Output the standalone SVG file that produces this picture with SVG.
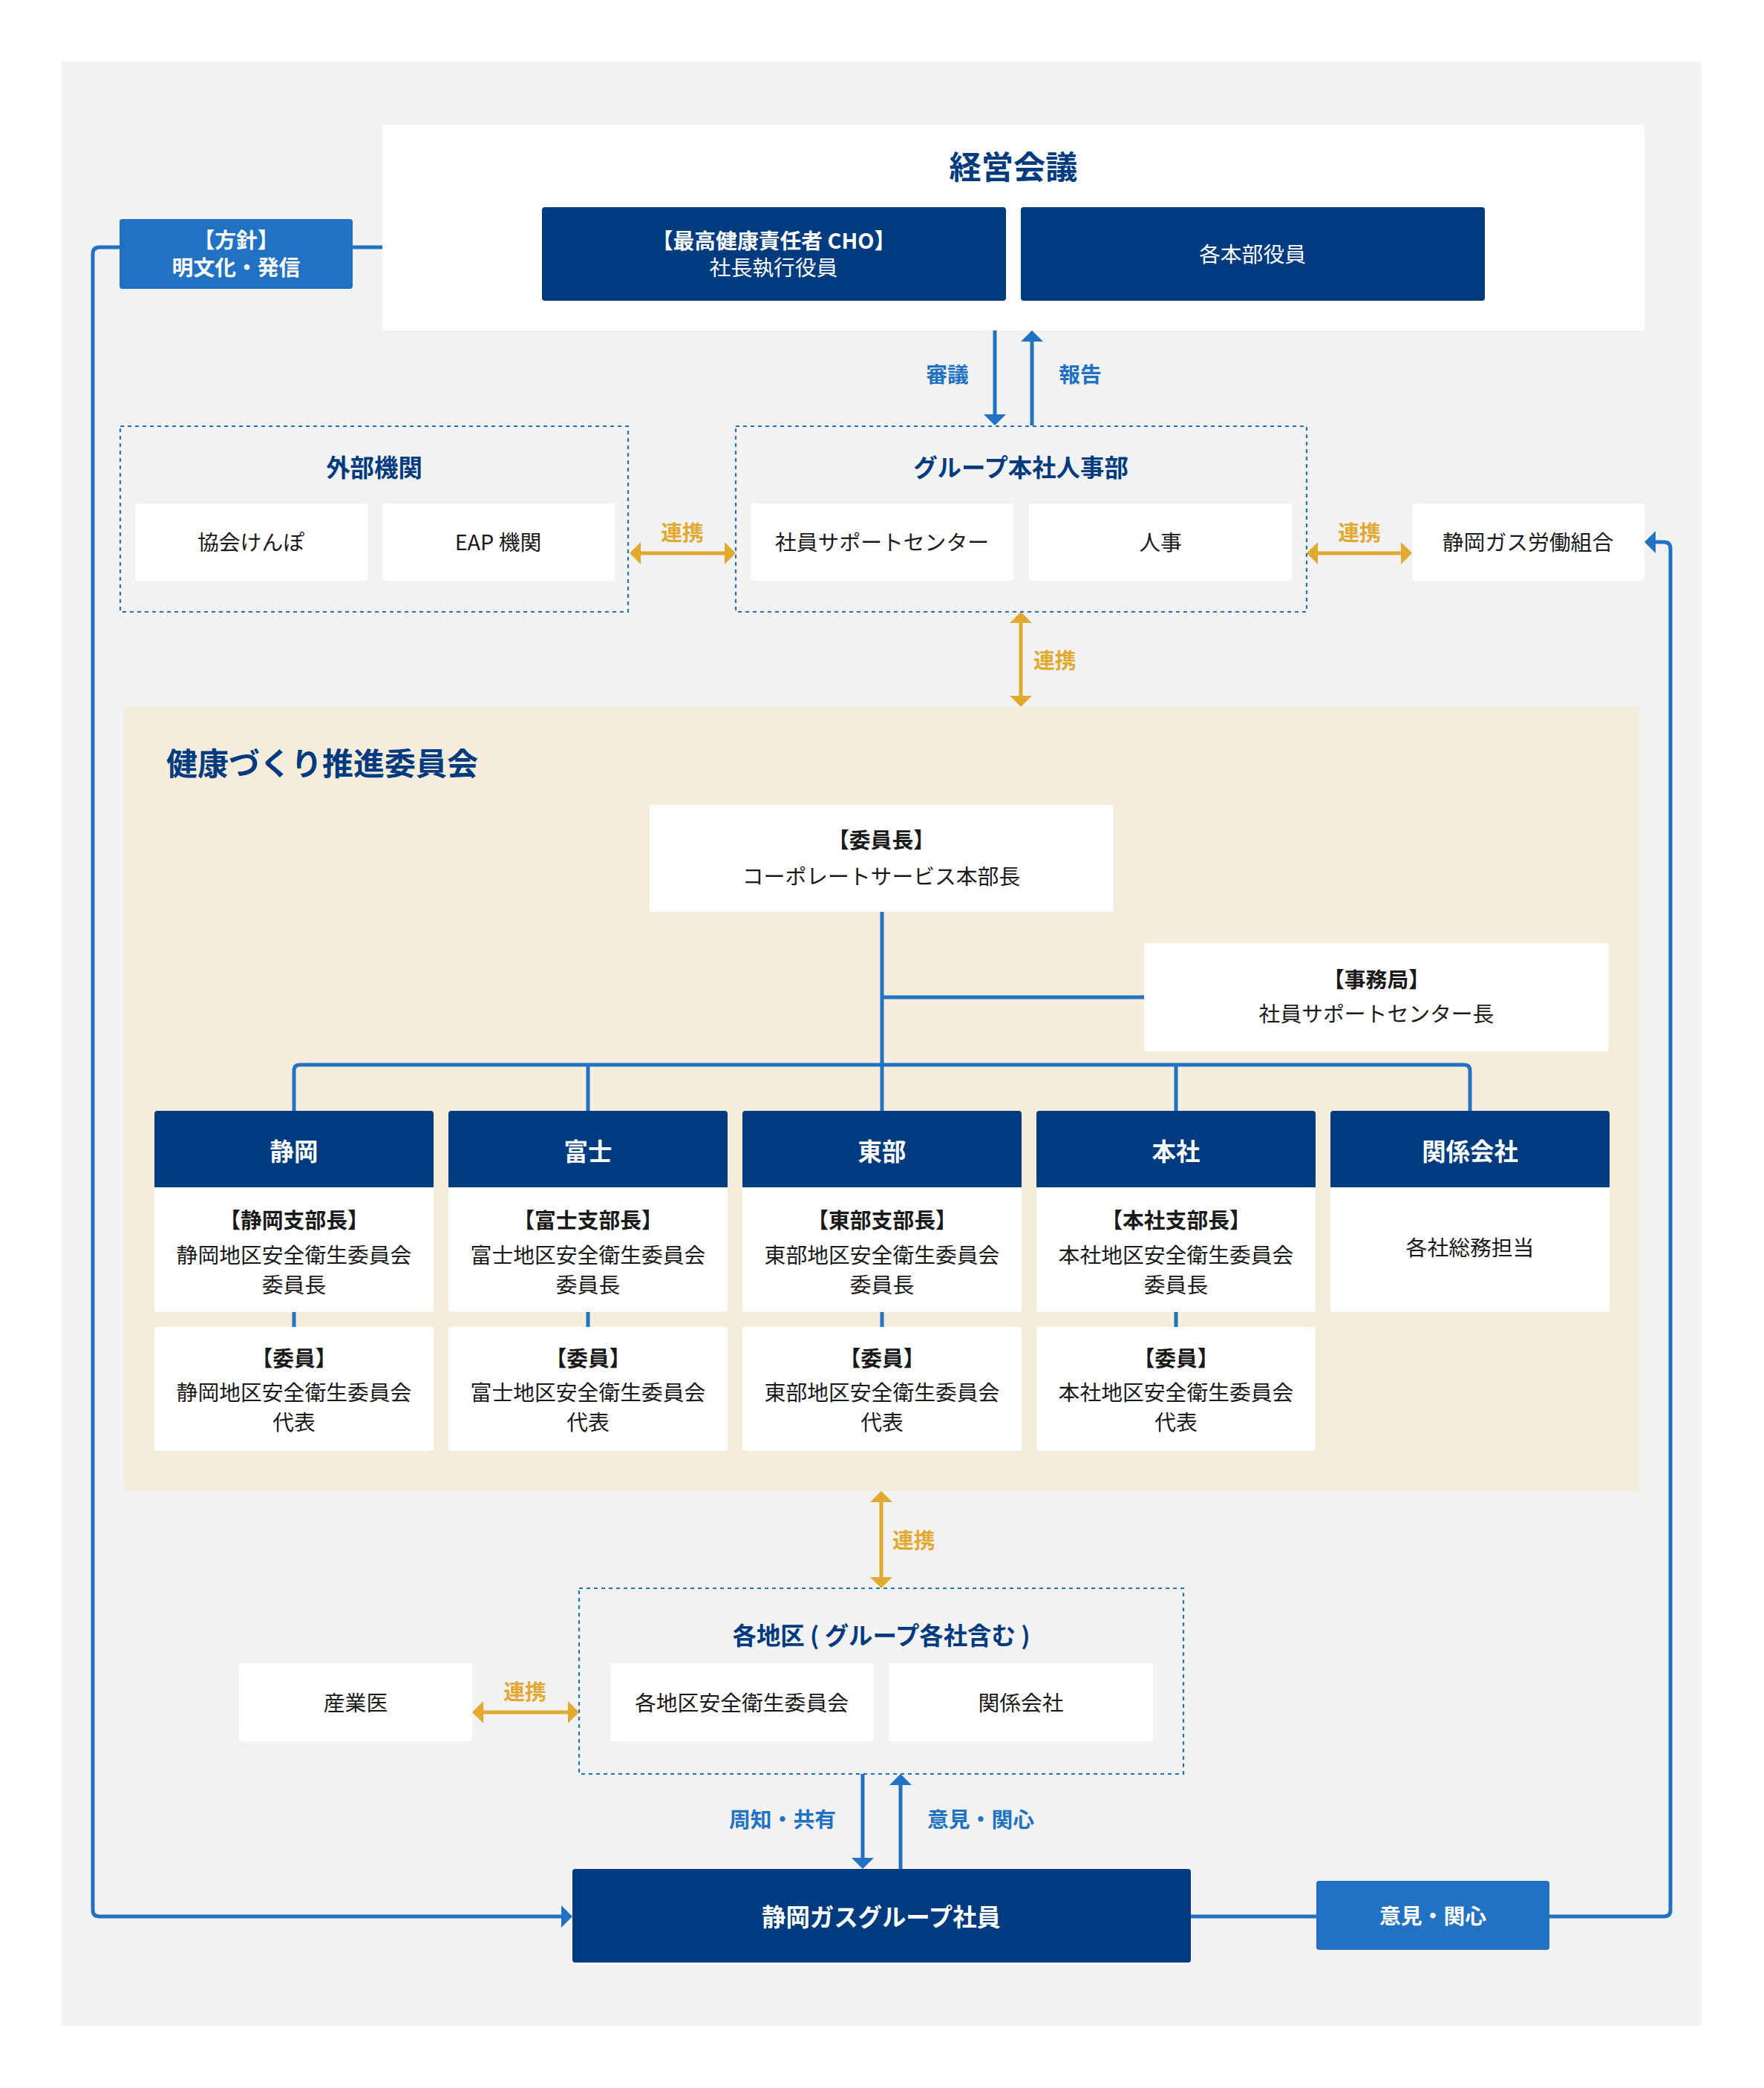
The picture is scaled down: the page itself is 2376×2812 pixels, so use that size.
<svg xmlns="http://www.w3.org/2000/svg" width="2376" height="2812" viewBox="0 0 2376 2812">
<defs>
<style>
text{font-family:"Noto Sans CJK JP","Noto Sans",sans-serif;text-anchor:middle;}
.t{font-size:28.8px;fill:#1a1a1a;}
.tb{font-size:28.8px;font-weight:700;fill:#1a1a1a;}
.w{font-size:28.8px;fill:#fff;}
.wb{font-size:28.8px;font-weight:700;fill:#fff;}
.wh{font-size:32.4px;font-weight:700;fill:#fff;}
.h{font-size:32.4px;font-weight:700;fill:#003b80;}
.big{font-size:43.2px;font-weight:700;fill:#003b80;}
.lb{font-size:28.8px;font-weight:700;fill:#2272c3;}
.ly{font-size:28.8px;font-weight:700;fill:#e2a930;}
.card{fill:#fff;}
.navy{fill:#003b80;}
.blue{fill:#2272c3;}
.dot{fill:none;stroke:#2272c3;stroke-width:2.2;stroke-dasharray:5 5;}
.cb{fill:none;stroke:#2272c3;stroke-width:5;}
.cy{fill:none;stroke:#e2a930;stroke-width:5;}
.ab{fill:none;stroke:#2272c3;stroke-width:5;marker-end:url(#hb);}
.ay{fill:none;stroke:#e2a930;stroke-width:5;marker-end:url(#hy);marker-start:url(#hy);}
</style>
<marker id="hb" viewBox="0 0 15 30" refX="0" refY="15" markerWidth="15" markerHeight="30" markerUnits="userSpaceOnUse" orient="auto">
<path d="M0,0 L15,15 L0,30 Z" fill="#2272c3"/>
</marker>
<marker id="hy" viewBox="0 0 15 30" refX="0" refY="15" markerWidth="15" markerHeight="30" markerUnits="userSpaceOnUse" orient="auto-start-reverse">
<path d="M0,0 L15,15 L0,30 Z" fill="#e2a930"/>
</marker>
</defs>
<rect x="0" y="0" width="2376" height="2812" fill="#fff"/>
<rect x="83" y="83" width="2209" height="2645" fill="#f2f2f2"/>
<rect id="committee-bg" x="167" y="952" width="2041" height="1056" rx="4" fill="#f6ecdc"/>

<g id="connectors">
<path class="cb" d="M161,333 H134 Q125,333 125,342 V2572 Q125,2581 134,2581 H756" />
<path d="M756,2566 L771,2581 L756,2596 Z" fill="#2272c3"/>
<path class="cb" d="M475,333 H515"/>
<path class="ab" d="M1340,445 V558"/>
<path class="ab" d="M1390,573 V460"/>
<path class="ay" d="M863,745 H976"/>
<path class="ay" d="M1775,745 H1887"/>
<path class="ay" d="M1375,839 V937"/>
<path class="cb" d="M1188,1228 V1496"/>
<path class="cb" d="M1188,1343 H1541"/>
<path class="cb" d="M396,1496 V1442 Q396,1434 404,1434 H1972 Q1980,1434 1980,1442 V1496"/>
<path class="cb" d="M792,1434 V1496 M1584,1434 V1496"/>
<path class="cb" d="M396,1767 V1787 M792,1767 V1787 M1188,1767 V1787 M1584,1767 V1787"/>
<path class="ay" d="M1187,2023 V2124"/>
<path class="ay" d="M651,2306 H765"/>
<path class="ab" d="M1162,2389 V2502"/>
<path class="ab" d="M1213,2517 V2404"/>
<path class="cb" d="M1604,2581 H1773"/>
<path class="cb" d="M2087,2581 H2241 Q2250,2581 2250,2572 V739 Q2250,730 2241,730 H2230"/>
<path d="M2230,715 L2215,730 L2230,745 Z" fill="#2272c3"/>
</g>

<g id="labels">
<text class="lb" x="1276" y="515">審議</text>
<text class="lb" x="1455" y="515">報告</text>
<text class="ly" x="919" y="728">連携</text>
<text class="ly" x="1831" y="728">連携</text>
<text class="ly" x="1392" y="900" style="text-anchor:start">連携</text>
<text class="ly" x="1202" y="2085" style="text-anchor:start">連携</text>
<text class="ly" x="707" y="2289">連携</text>
<text class="lb" x="1054" y="2461">周知・共有</text>
<text class="lb" x="1321" y="2461">意見・関心</text>
</g>

<g id="keiei">
<rect class="card" x="515" y="168" width="1700" height="277" rx="4"/>
<text class="big" x="1365" y="241">経営会議</text>
</g>
<g id="cho">
<rect class="navy" x="730" y="279" width="625" height="126" rx="4"/>
<text class="wb" x="1042" y="335">【最高健康責任者 CHO】</text>
<text class="w" x="1042" y="371">社長執行役員</text>
</g>
<g id="honbu">
<rect class="navy" x="1375" y="279" width="625" height="126" rx="4"/>
<text class="w" x="1687" y="353">各本部役員</text>
</g>
<g id="houshin">
<rect class="blue" x="161" y="295" width="314" height="94" rx="4"/>
<text class="wb" x="318" y="334">【方針】</text>
<text class="wb" x="318" y="371">明文化・発信</text>
</g>

<g id="gaibu">
<rect class="dot" x="162" y="574" width="684" height="250"/>
<text class="h" x="504" y="642">外部機関</text>
<rect class="card" x="182" y="678" width="313" height="104" rx="4"/>
<text class="t" x="338" y="741">協会けんぽ</text>
<rect class="card" x="515" y="678" width="313" height="104" rx="4"/>
<text class="t" x="671" y="741">EAP 機関</text>
</g>
<g id="jinji">
<rect class="dot" x="991" y="574" width="769" height="250"/>
<text class="h" x="1375" y="642">グループ本社人事部</text>
<rect class="card" x="1011" y="678" width="354" height="104" rx="4"/>
<text class="t" x="1188" y="741">社員サポートセンター</text>
<rect class="card" x="1386" y="678" width="354" height="104" rx="4"/>
<text class="t" x="1563" y="741">人事</text>
</g>
<g id="kumiai">
<rect class="card" x="1902" y="678" width="313" height="104" rx="4"/>
<text class="t" x="2058" y="741">静岡ガス労働組合</text>
</g>

<g id="committee-title">
<text class="big" x="224" y="1044" style="text-anchor:start;font-size:42px">健康づくり推進委員会</text>
</g>
<g id="iinchou">
<rect class="card" x="875" y="1084" width="625" height="144" rx="4"/>
<text class="tb" x="1187" y="1142">【委員長】</text>
<text class="t" x="1187" y="1191">コーポレートサービス本部長</text>
</g>
<g id="jimukyoku">
<rect class="card" x="1541" y="1270" width="626" height="146" rx="4"/>
<text class="tb" x="1854" y="1330">【事務局】</text>
<text class="t" x="1854" y="1376">社員サポートセンター長</text>
</g>

<g id="shizuoka">
<rect class="card" x="208" y="1496" width="376" height="271" rx="4"/>
<path class="navy" d="M208,1599 V1500 Q208,1496 212,1496 H580 Q584,1496 584,1500 V1599 Z"/>
<text class="wh" x="396" y="1563">静岡</text>
<text class="tb" x="396" y="1654">【静岡支部長】</text>
<text class="t" x="396" y="1701">静岡地区安全衛生委員会</text>
<text class="t" x="396" y="1741">委員長</text>
<rect class="card" x="208" y="1787" width="376" height="167" rx="4"/>
<text class="tb" x="396" y="1840">【委員】</text>
<text class="t" x="396" y="1886">静岡地区安全衛生委員会</text>
<text class="t" x="396" y="1926">代表</text>
</g>
<g id="fuji">
<rect class="card" x="604" y="1496" width="376" height="271" rx="4"/>
<path class="navy" d="M604,1599 V1500 Q604,1496 608,1496 H976 Q980,1496 980,1500 V1599 Z"/>
<text class="wh" x="792" y="1563">富士</text>
<text class="tb" x="792" y="1654">【富士支部長】</text>
<text class="t" x="792" y="1701">富士地区安全衛生委員会</text>
<text class="t" x="792" y="1741">委員長</text>
<rect class="card" x="604" y="1787" width="376" height="167" rx="4"/>
<text class="tb" x="792" y="1840">【委員】</text>
<text class="t" x="792" y="1886">富士地区安全衛生委員会</text>
<text class="t" x="792" y="1926">代表</text>
</g>
<g id="toubu">
<rect class="card" x="1000" y="1496" width="376" height="271" rx="4"/>
<path class="navy" d="M1000,1599 V1500 Q1000,1496 1004,1496 H1372 Q1376,1496 1376,1500 V1599 Z"/>
<text class="wh" x="1188" y="1563">東部</text>
<text class="tb" x="1188" y="1654">【東部支部長】</text>
<text class="t" x="1188" y="1701">東部地区安全衛生委員会</text>
<text class="t" x="1188" y="1741">委員長</text>
<rect class="card" x="1000" y="1787" width="376" height="167" rx="4"/>
<text class="tb" x="1188" y="1840">【委員】</text>
<text class="t" x="1188" y="1886">東部地区安全衛生委員会</text>
<text class="t" x="1188" y="1926">代表</text>
</g>
<g id="honsha">
<rect class="card" x="1396" y="1496" width="376" height="271" rx="4"/>
<path class="navy" d="M1396,1599 V1500 Q1396,1496 1400,1496 H1768 Q1772,1496 1772,1500 V1599 Z"/>
<text class="wh" x="1584" y="1563">本社</text>
<text class="tb" x="1584" y="1654">【本社支部長】</text>
<text class="t" x="1584" y="1701">本社地区安全衛生委員会</text>
<text class="t" x="1584" y="1741">委員長</text>
<rect class="card" x="1396" y="1787" width="376" height="167" rx="4"/>
<text class="tb" x="1584" y="1840">【委員】</text>
<text class="t" x="1584" y="1886">本社地区安全衛生委員会</text>
<text class="t" x="1584" y="1926">代表</text>
</g>
<g id="kankei">
<rect class="card" x="1792" y="1496" width="376" height="271" rx="4"/>
<path class="navy" d="M1792,1599 V1500 Q1792,1496 1796,1496 H2164 Q2168,1496 2168,1500 V1599 Z"/>
<text class="wh" x="1980" y="1563">関係会社</text>
<text class="t" x="1980" y="1691">各社総務担当</text>
</g>

<g id="kakuchiku">
<rect class="dot" x="780" y="2139" width="814" height="250"/>
<text class="h" x="1187" y="2215">各地区 ( グループ各社含む )</text>
<rect class="card" x="822" y="2240" width="355" height="105" rx="4"/>
<text class="t" x="999" y="2304">各地区安全衛生委員会</text>
<rect class="card" x="1197" y="2240" width="356" height="105" rx="4"/>
<text class="t" x="1375" y="2304">関係会社</text>
</g>
<g id="sangyoui">
<rect class="card" x="322" y="2240" width="314" height="105" rx="4"/>
<text class="t" x="479" y="2304">産業医</text>
</g>
<g id="shain">
<rect class="navy" x="771" y="2517" width="833" height="126" rx="4"/>
<text class="wh" x="1187" y="2594">静岡ガスグループ社員</text>
</g>
<g id="iken">
<rect class="blue" x="1773" y="2533" width="314" height="93" rx="4"/>
<text class="wb" x="1930" y="2591">意見・関心</text>
</g>
</svg>
